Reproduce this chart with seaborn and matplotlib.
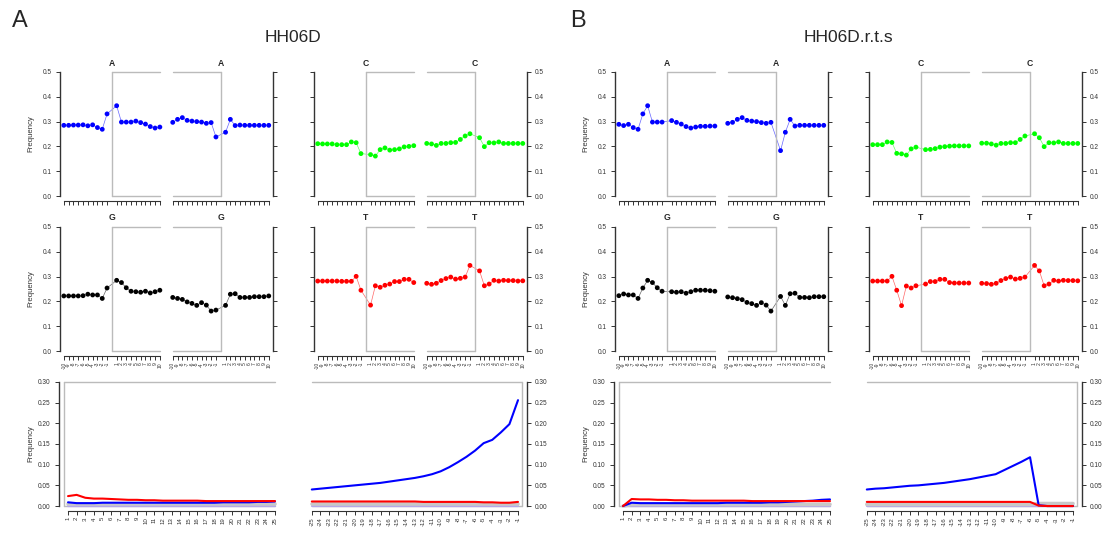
import numpy as np
import pandas as pd
import matplotlib
matplotlib.use("Agg")
import matplotlib.pyplot as plt
import seaborn as sns

sns.set_theme(style="ticks")
plt.rcParams['font.family'] = ['Liberation Sans', 'DejaVu Sans']

# ---------------- data ----------------
samples = ["HH06D", "HH06D.r.t.s"]
panel_letters = ["A", "B"]
nucleotides = ["A", "C", "G", "T"]
nuc_colors = {"A": "#0000FF", "C": "#00FF00", "G": "#000000", "T": "#FF0000"}
comp_positions = list(range(-10, 0)) + list(range(1, 11))
comp_tick_labels = [str(p) for p in comp_positions]

# HH06D base composition (5' end, 3' end)
a_A_5p = [0.285, 0.285, 0.286, 0.286, 0.287, 0.283, 0.287, 0.276, 0.269, 0.331,
          0.364, 0.298, 0.298, 0.298, 0.302, 0.296, 0.290, 0.280, 0.274, 0.278]
a_A_3p = [0.297, 0.309, 0.316, 0.305, 0.302, 0.300, 0.298, 0.293, 0.296, 0.238,
          0.257, 0.309, 0.284, 0.286, 0.285, 0.285, 0.285, 0.285, 0.285, 0.285]
a_C_5p = [0.211, 0.210, 0.210, 0.210, 0.207, 0.207, 0.207, 0.218, 0.215, 0.171,
          0.167, 0.161, 0.187, 0.194, 0.185, 0.187, 0.190, 0.198, 0.200, 0.203]
a_C_3p = [0.212, 0.210, 0.204, 0.212, 0.212, 0.215, 0.216, 0.228, 0.242, 0.251,
          0.235, 0.199, 0.215, 0.214, 0.218, 0.212, 0.212, 0.212, 0.212, 0.212]
a_G_5p = [0.222, 0.222, 0.222, 0.222, 0.223, 0.229, 0.226, 0.226, 0.212, 0.254,
          0.285, 0.276, 0.255, 0.241, 0.239, 0.237, 0.241, 0.234, 0.239, 0.245]
a_G_3p = [0.216, 0.212, 0.208, 0.198, 0.192, 0.184, 0.195, 0.185, 0.161, 0.165,
          0.184, 0.229, 0.231, 0.216, 0.216, 0.216, 0.219, 0.219, 0.219, 0.222]
a_T_5p = [0.282, 0.282, 0.282, 0.282, 0.282, 0.281, 0.281, 0.281, 0.301, 0.245,
          0.185, 0.263, 0.257, 0.265, 0.270, 0.280, 0.280, 0.289, 0.289, 0.276]
a_T_3p = [0.273, 0.269, 0.273, 0.284, 0.292, 0.298, 0.290, 0.293, 0.298, 0.345,
          0.323, 0.263, 0.270, 0.285, 0.282, 0.285, 0.284, 0.284, 0.282, 0.283]

# HH06D.r.t.s base composition
b_A_5p = [0.289, 0.284, 0.289, 0.276, 0.269, 0.331, 0.364, 0.298, 0.298, 0.298,
          0.304, 0.297, 0.290, 0.280, 0.274, 0.278, 0.281, 0.281, 0.282, 0.282]
b_A_3p = [0.293, 0.297, 0.309, 0.316, 0.305, 0.302, 0.300, 0.296, 0.293, 0.297,
          0.183, 0.257, 0.309, 0.282, 0.285, 0.285, 0.285, 0.285, 0.285, 0.285]
b_C_5p = [0.207, 0.207, 0.207, 0.218, 0.216, 0.172, 0.170, 0.165, 0.190, 0.197,
          0.187, 0.188, 0.191, 0.197, 0.199, 0.201, 0.202, 0.202, 0.202, 0.202]
b_C_3p = [0.213, 0.213, 0.210, 0.205, 0.212, 0.212, 0.215, 0.215, 0.228, 0.242,
          0.251, 0.235, 0.199, 0.215, 0.214, 0.218, 0.212, 0.212, 0.212, 0.212]
b_G_5p = [0.223, 0.230, 0.226, 0.226, 0.212, 0.254, 0.285, 0.276, 0.255, 0.241,
          0.239, 0.237, 0.239, 0.233, 0.239, 0.245, 0.245, 0.245, 0.243, 0.241]
b_G_3p = [0.218, 0.215, 0.211, 0.207, 0.196, 0.191, 0.184, 0.195, 0.185, 0.161,
          0.220, 0.184, 0.231, 0.233, 0.216, 0.216, 0.215, 0.219, 0.219, 0.219]
b_T_5p = [0.282, 0.282, 0.282, 0.282, 0.301, 0.245, 0.183, 0.262, 0.254, 0.263,
          0.270, 0.280, 0.280, 0.289, 0.289, 0.276, 0.274, 0.274, 0.274, 0.274]
b_T_3p = [0.273, 0.272, 0.269, 0.273, 0.284, 0.292, 0.298, 0.290, 0.293, 0.298,
          0.345, 0.323, 0.263, 0.270, 0.285, 0.282, 0.285, 0.284, 0.284, 0.283]

# misincorporation positions
mis_pos_5p = list(range(1, 26))
mis_pos_3p = list(range(-25, 0))

# HH06D misincorporation
a_CT_5p = [0.024, 0.027, 0.020, 0.018, 0.018, 0.017, 0.016, 0.015, 0.015, 0.014,
           0.014, 0.013, 0.013, 0.013, 0.013, 0.013, 0.012, 0.012, 0.012, 0.012,
           0.012, 0.012, 0.012, 0.012, 0.012]
a_GA_5p = [0.009, 0.007, 0.007, 0.007, 0.008, 0.008, 0.008, 0.008, 0.008, 0.008,
           0.008, 0.008, 0.008, 0.008, 0.008, 0.008, 0.008, 0.008, 0.009, 0.009,
           0.009, 0.009, 0.010, 0.010, 0.011]
a_CT_3p = [0.011, 0.011, 0.011, 0.011, 0.011, 0.011, 0.011, 0.011, 0.011, 0.011,
           0.011, 0.011, 0.011, 0.010, 0.010, 0.010, 0.010, 0.010, 0.010, 0.010,
           0.009, 0.009, 0.008, 0.008, 0.010]
a_GA_3p = [0.040, 0.042, 0.044, 0.046, 0.048, 0.050, 0.052, 0.054, 0.056, 0.059,
           0.062, 0.065, 0.068, 0.072, 0.077, 0.084, 0.094, 0.106, 0.119, 0.134,
           0.152, 0.160, 0.178, 0.198, 0.256]
a_other_5p = [0.004] * 25
a_other_3p = [0.004] * 25
a_ins_5p = [0.0008] * 25
a_ins_3p = [0.0008] * 25

# HH06D.r.t.s misincorporation
b_CT_5p = [0.000, 0.017, 0.016, 0.016, 0.015, 0.015, 0.014, 0.014, 0.013, 0.013,
           0.013, 0.013, 0.013, 0.013, 0.013, 0.012, 0.012, 0.012, 0.012, 0.012,
           0.012, 0.012, 0.012, 0.012, 0.012]
b_GA_5p = [0.000, 0.008, 0.007, 0.007, 0.007, 0.007, 0.007, 0.007, 0.007, 0.007,
           0.007, 0.007, 0.008, 0.008, 0.008, 0.008, 0.008, 0.009, 0.009, 0.010,
           0.011, 0.012, 0.013, 0.015, 0.016]
b_CT_3p = [0.010, 0.010, 0.010, 0.010, 0.010, 0.010, 0.010, 0.010, 0.010, 0.010,
           0.010, 0.010, 0.010, 0.010, 0.010, 0.010, 0.010, 0.010, 0.010, 0.010,
           0.001, 0.000, 0.000, 0.000, 0.000]
b_GA_3p = [0.040, 0.042, 0.043, 0.045, 0.047, 0.049, 0.050, 0.052, 0.054, 0.056,
           0.059, 0.062, 0.065, 0.069, 0.073, 0.077, 0.087, 0.097, 0.107, 0.118,
           0.002, 0.000, 0.000, 0.000, 0.000]
b_other_5p = [0.000] + [0.004] * 24
b_other_3p = [0.004] * 20 + [0.006] * 5
b_ins_5p = [0.0008] * 25
b_ins_3p = [0.0008] * 25

comp_data = [
    {"A": (a_A_5p, a_A_3p), "C": (a_C_5p, a_C_3p), "G": (a_G_5p, a_G_3p), "T": (a_T_5p, a_T_3p)},
    {"A": (b_A_5p, b_A_3p), "C": (b_C_5p, b_C_3p), "G": (b_G_5p, b_G_3p), "T": (b_T_5p, b_T_3p)},
]
mis_data = [
    dict(CT5=a_CT_5p, GA5=a_GA_5p, CT3=a_CT_3p, GA3=a_GA_3p,
         O5=a_other_5p, O3=a_other_3p, I5=a_ins_5p, I3=a_ins_3p),
    dict(CT5=b_CT_5p, GA5=b_GA_5p, CT3=b_CT_3p, GA3=b_GA_3p,
         O5=b_other_5p, O3=b_other_3p, I5=b_ins_5p, I3=b_ins_3p),
]

# ---------------- layout ----------------
W, H = 1107, 533
fig = plt.figure(figsize=(W / 100, H / 100), dpi=100)

AXC = "#333333"
BOXC = "#BBBBBB"
TICK_FS = 4.7


def add_ax(x0, y0, x1, y1):
    ax = fig.add_axes([x0 / W, 1 - y1 / H, (x1 - x0) / W, (y1 - y0) / H])
    ax.set_facecolor("none")
    return ax


def ftext(x, y, s, **kw):
    fig.text(x / W, 1 - y / H, s, ha="center", va="center", **kw)


def comp_panel(ax, vals, color, side, show_xlab, show_ylab):
    df = pd.DataFrame({"pos": comp_positions, "freq": vals})
    sns.lineplot(data=df, x="pos", y="freq", ax=ax, color=color, lw=0.5,
                 alpha=0.6, sort=False)
    sns.scatterplot(data=df, x="pos", y="freq", ax=ax, color=color, s=12,
                    edgecolor="none", linewidth=0, zorder=3)
    ax.set_xlim(-10.8, 10.8)
    ax.set_ylim(-0.02, 0.52)
    if side == "5p":
        ax.plot([0, 0], [0, 0.5], color=BOXC, lw=1.0)
        ax.plot([0, 10], [0.5, 0.5], color=BOXC, lw=1.0)
        ax.plot([0, 10], [0, 0], color=BOXC, lw=1.0)
    else:
        ax.plot([0, 0], [0, 0.5], color=BOXC, lw=1.0)
        ax.plot([-10, 0], [0.5, 0.5], color=BOXC, lw=1.0)
        ax.plot([-10, 0], [0, 0], color=BOXC, lw=1.0)
    for s in ["top", "left", "right", "bottom"]:
        ax.spines[s].set_visible(False)
    ax.spines["bottom"].set_visible(True)
    ax.spines["bottom"].set_bounds(-10, 10)
    ax.spines["bottom"].set_color(AXC)
    ax.spines["bottom"].set_linewidth(0.8)
    yside = "left" if side == "5p" else "right"
    ax.spines[yside].set_visible(True)
    ax.spines[yside].set_bounds(0, 0.5)
    ax.spines[yside].set_color(AXC)
    ax.spines[yside].set_linewidth(1.0)
    ax.set_xticks(comp_positions)
    ax.set_xticklabels(comp_tick_labels if show_xlab else [""] * 20,
                       rotation=90, fontsize=3.6)
    ax.set_yticks([0, 0.1, 0.2, 0.3, 0.4, 0.5])
    ax.set_yticklabels(["0.0", "0.1", "0.2", "0.3", "0.4", "0.5"] if show_ylab else [""] * 6,
                       fontsize=TICK_FS)
    if side == "3p":
        ax.yaxis.tick_right()
    else:
        ax.yaxis.tick_left()
    ax.tick_params(axis="both", direction="out", length=3.2, width=0.7,
                   colors=AXC, pad=1.2)
    ax.tick_params(axis="y", pad=3.0)
    ax.tick_params(axis="x", bottom=True, top=False)
    ax.set_xlabel("")
    ax.set_ylabel("")
    ax.grid(False)


def mis_panel(ax, d, side):
    if side == "5p":
        xs = mis_pos_5p
        red, blue, other, ins = d["CT5"], d["GA5"], d["O5"], d["I5"]
        ax.set_xlim(0, 25)
        ax.plot([0.5, 0.5], [0, 0.3], color=BOXC, lw=1.0)
        ax.plot([0.5, 25], [0.3, 0.3], color=BOXC, lw=1.0, clip_on=False)
        ax.plot([0.5, 25], [0, 0], color=BOXC, lw=1.0, clip_on=False)
    else:
        xs = mis_pos_3p
        red, blue, other, ins = d["CT3"], d["GA3"], d["O3"], d["I3"]
        ax.set_xlim(-25, 0)
        ax.plot([-0.5, -0.5], [0, 0.3], color=BOXC, lw=1.0)
        ax.plot([-25, -0.5], [0.3, 0.3], color=BOXC, lw=1.0, clip_on=False)
        ax.plot([-25, -0.5], [0, 0], color=BOXC, lw=1.0, clip_on=False)
    ax.set_ylim(-0.012, 0.312)
    df = pd.DataFrame({"pos": xs, "red": red, "blue": blue, "other": other, "ins": ins})
    sns.lineplot(data=df, x="pos", y="ins", ax=ax, color="#B4A8E8", lw=1.6, clip_on=False)
    sns.lineplot(data=df, x="pos", y="other", ax=ax, color="#C8C8C8", lw=2.6, clip_on=False)
    sns.lineplot(data=df, x="pos", y="blue", ax=ax, color="#0000FF", lw=1.5, clip_on=False)
    sns.lineplot(data=df, x="pos", y="red", ax=ax, color="#FF0000", lw=1.5, clip_on=False)
    for s in ["top", "left", "right", "bottom"]:
        ax.spines[s].set_visible(False)
    ax.spines["bottom"].set_visible(True)
    ax.spines["bottom"].set_bounds(min(xs), max(xs))
    ax.spines["bottom"].set_color(AXC)
    ax.spines["bottom"].set_linewidth(0.8)
    yside = "left" if side == "5p" else "right"
    ax.spines[yside].set_visible(True)
    ax.spines[yside].set_bounds(0, 0.3)
    ax.spines[yside].set_color(AXC)
    ax.spines[yside].set_linewidth(1.0)
    ax.set_xticks(xs)
    ax.set_xticklabels([str(v) for v in xs], rotation=90, fontsize=4.4)
    yt = [0, 0.05, 0.10, 0.15, 0.20, 0.25, 0.30]
    ax.set_yticks(yt)
    ax.set_yticklabels(["%.2f" % v for v in yt], fontsize=TICK_FS)
    if side == "3p":
        ax.yaxis.tick_right()
    else:
        ax.yaxis.tick_left()
    ax.tick_params(axis="both", direction="out", length=3.2, width=0.7,
                   colors=AXC, pad=1.2)
    ax.tick_params(axis="y", pad=3.0)
    ax.tick_params(axis="x", bottom=True, top=False)
    ax.set_xlabel("")
    ax.set_ylabel("")
    ax.grid(False)


SUB_W = 103.7
sub_x = {"5p_first": 60.0, "3p_first": 168.9, "5p_second": 313.9, "3p_second": 422.9}
rows = [(67, 201, ["A", "C"]), (222, 356, ["G", "T"])]

for si, sample in enumerate(samples):
    dx = 555 * si
    ftext(20 + 558 * si, 21, panel_letters[si], fontsize=17)
    ftext(293 + dx, 38, sample, fontsize=12.5)
    for ri, (y0, y1, nucs) in enumerate(rows):
        for ni, nuc in enumerate(nucs):
            key = "first" if ni == 0 else "second"
            vals5, vals3 = comp_data[si][nuc]
            x5 = sub_x["5p_" + key] + dx
            x3 = sub_x["3p_" + key] + dx
            ax5 = add_ax(x5, y0, x5 + SUB_W, y1)
            comp_panel(ax5, vals5, nuc_colors[nuc], "5p",
                       show_xlab=(ri == 1), show_ylab=(ni == 0))
            ax3 = add_ax(x3, y0, x3 + SUB_W, y1)
            comp_panel(ax3, vals3, nuc_colors[nuc], "3p",
                       show_xlab=(ri == 1), show_ylab=(ni == 1))
            ftext(x5 + SUB_W / 2, y0 - 4, nuc, fontsize=6.2, fontweight="bold")
            ftext(x3 + SUB_W / 2, y0 - 4, nuc, fontsize=6.2, fontweight="bold")
        ftext(30.5 + dx, (y0 + y1) / 2, "Frequency", fontsize=5.6, rotation=90,
              color="#333333")
    axl = add_ax(59.4 + dx, 377, 275.0 + dx, 511)
    mis_panel(axl, mis_data[si], "5p")
    axr = add_ax(311.8 + dx, 377, 526.6 + dx, 511)
    mis_panel(axr, mis_data[si], "3p")
    ftext(30.5 + dx, 444, "Frequency", fontsize=5.6, rotation=90, color="#333333")

fig.savefig("out.png", dpi=100, facecolor="white")
